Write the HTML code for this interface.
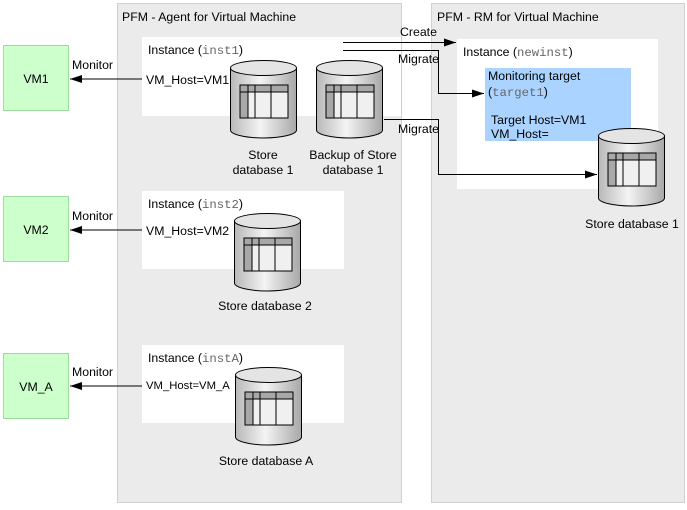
<!DOCTYPE html>
<html><head><meta charset="utf-8"><style>
body{margin:0;background:#fff}
svg text{font-family:"Liberation Sans",sans-serif;font-size:12.3px;fill:#000}
.m{font-family:"Liberation Mono",monospace;fill:#666}
</style></head><body>
<svg width="687" height="505" viewBox="0 0 687 505" xmlns="http://www.w3.org/2000/svg">
<defs>
<linearGradient id="g" x1="0" x2="1" y1="0" y2="0">
<stop offset="0" stop-color="#b8b8b8"/><stop offset="0.45" stop-color="#f4f4f4"/><stop offset="1" stop-color="#a8a8a8"/>
</linearGradient>
<marker id="a" markerWidth="12" markerHeight="8" refX="12" refY="4" orient="auto" markerUnits="userSpaceOnUse">
<path d="M0,0L12,4L0,8z" fill="#000"/></marker>
<g id="cyl">
<path d="M0.5,8 V70 A33,8 0 0 0 66.5,70 V8" fill="url(#g)" stroke="#000"/>
<ellipse cx="33.5" cy="8" rx="33" ry="7.5" fill="#e4e4e4" stroke="#000"/>
<rect x="10" y="25" width="48" height="33" fill="#f0f0f0" stroke="#000"/>
<rect x="10" y="25" width="48" height="7" fill="#a8a8a8"/>
<rect x="10" y="25" width="8" height="33" fill="#a8a8a8"/>
<rect x="10" y="25" width="48" height="33" fill="none" stroke="#000"/>
<path d="M10,32H58M18,25V58M25,25V58M41,25V58" stroke="#000" fill="none"/>
</g>
</defs>
<rect x="117.5" y="3.5" width="284" height="499" fill="#ebebeb" stroke="#d0d0d0"/>
<rect x="431.5" y="3.5" width="253" height="499" fill="#ebebeb" stroke="#d0d0d0"/>
<text x="122" y="21">PFM - Agent for Virtual Machine</text>
<text x="437" y="21">PFM - RM for Virtual Machine</text>
<rect x="142" y="37" width="259" height="79" fill="#fff"/>
<rect x="142" y="191" width="202" height="78" fill="#fff"/>
<rect x="142" y="345" width="202" height="78" fill="#fff"/>
<rect x="457" y="39" width="201" height="150" fill="#fff"/>
<rect x="485" y="68" width="146" height="73" fill="#aad4ff"/>
<rect x="3.5" y="45.5" width="65" height="65" fill="#ccffcc" stroke="#9ddd9d"/>
<rect x="3.5" y="196.5" width="65" height="65" fill="#ccffcc" stroke="#9ddd9d"/>
<rect x="3.5" y="353.5" width="65" height="65" fill="#ccffcc" stroke="#9ddd9d"/>
<text x="36" y="83" text-anchor="middle">VM1</text>
<text x="36" y="234" text-anchor="middle">VM2</text>
<text x="36" y="391" text-anchor="middle">VM_A</text>
<text x="148" y="54">Instance (<tspan class="m">inst1</tspan>)</text>
<text x="148" y="208">Instance (<tspan class="m">inst2</tspan>)</text>
<text x="148" y="362">Instance (<tspan class="m">instA</tspan>)</text>
<text x="463" y="56">Instance (<tspan class="m">newinst</tspan>)</text>
<text x="488" y="80">Monitoring target</text>
<text x="488" y="96">(<tspan class="m">target1</tspan>)</text>
<text x="491" y="124">Target Host=VM1</text>
<text x="491" y="138">VM_Host=</text>
<text x="146" y="84">VM_Host=VM1</text>
<text x="146" y="235">VM_Host=VM2</text>
<text x="146" y="389" style="font-size:11.3px">VM_Host=VM_A</text>
<g stroke="#000" fill="none" stroke-width="1">
<path d="M142,79H70" marker-end="url(#a)"/>
<path d="M142,230H70" marker-end="url(#a)"/>
<path d="M142,386H70" marker-end="url(#a)"/>
<path d="M343,42.5H456" marker-end="url(#a)"/>
<path d="M343,50.5H438.5V93.5H484" marker-end="url(#a)"/>
<path d="M384,119.5H438.5V174.5H597" marker-end="url(#a)"/>
</g>
<text x="72" y="69">Monitor</text>
<text x="72" y="220">Monitor</text>
<text x="72" y="376">Monitor</text>
<text x="400" y="36">Create</text>
<text x="398" y="63">Migrate</text>
<text x="398" y="133">Migrate</text>
<use href="#cyl" x="230" y="60"/>
<use href="#cyl" x="316" y="60"/>
<use href="#cyl" x="234" y="213"/>
<use href="#cyl" x="235" y="367"/>
<use href="#cyl" x="598" y="128"/>
<text x="263" y="159" text-anchor="middle">Store</text>
<text x="263" y="174" text-anchor="middle">database 1</text>
<text x="353" y="159" text-anchor="middle">Backup of Store</text>
<text x="353" y="174" text-anchor="middle">database 1</text>
<text x="265" y="310" text-anchor="middle">Store database 2</text>
<text x="266" y="465" text-anchor="middle">Store database A</text>
<text x="632" y="228" text-anchor="middle">Store database 1</text>
</svg>
</body></html>
